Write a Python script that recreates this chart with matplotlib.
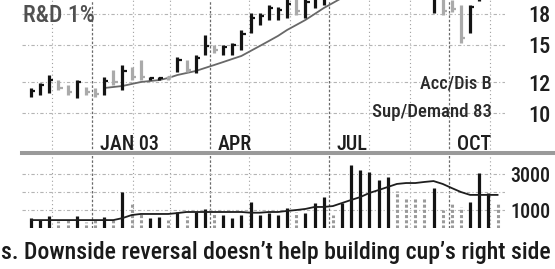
import os
import matplotlib
matplotlib.use("Agg")
import matplotlib.pyplot as plt
import matplotlib.dates as mdates
from matplotlib import font_manager
from matplotlib.font_manager import FontProperties
from matplotlib.lines import Line2D
from matplotlib.ticker import NullLocator
from matplotlib.transforms import blended_transform_factory
import numpy as np
import pandas as pd

# weekly bars, week ending fridays
weeks = pd.date_range("2002-11-15", periods=52, freq="W-FRI")

high = [11.60, 11.95, 12.53, 12.16, 11.81, 12.16, 11.67, 11.60, 12.38, 12.91,
        13.29, 13.14, 13.69, 12.38, 12.38, 12.45, 13.94, 13.69, 14.11, 15.89,
        14.97, 14.97, 15.15, 16.37, 18.10, 18.10, 18.98, 18.75, 19.70, 20.00,
        20.20, 20.50, 21.00, 21.50, 22.00, 23.00, 23.80, 24.50, 25.00, 25.60,
        25.40, 24.60, 23.80, 22.80, 21.60, 21.40, 19.60, 18.98, 18.98, 21.50,
        21.80, 21.60]
low = [11.00, 11.13, 11.26, 11.46, 11.13, 10.93, 11.13, 11.00, 11.13, 11.81,
       11.46, 12.16, 12.16, 12.16, 12.16, 12.20, 12.75, 12.75, 12.68, 14.11,
       14.28, 14.11, 14.11, 14.54, 16.08, 16.86, 17.37, 17.37, 17.58, 17.89,
       17.58, 18.65, 18.98, 19.70, 20.20, 21.00, 22.00, 22.80, 23.20, 23.80,
       23.40, 22.60, 21.80, 20.60, 18.10, 17.89, 18.20, 15.15, 16.08, 19.40,
       19.90, 19.70]
close = [11.40, 11.80, 12.20, 11.60, 11.30, 12.00, 11.30, 11.20, 12.10, 12.00,
         12.80, 12.40, 12.40, 12.30, 12.30, 12.35, 13.70, 12.90, 13.90, 14.90,
         14.50, 14.80, 14.95, 16.00, 17.60, 17.80, 18.60, 18.40, 19.10, 18.30,
         19.30, 20.00, 20.50, 20.80, 21.60, 22.70, 23.40, 24.00, 24.60, 25.20,
         23.80, 23.00, 22.20, 21.00, 21.20, 18.30, 18.50, 15.60, 18.75, 21.00,
         21.40, 20.00]
up_week = [1, 1, 1, 0, 0, 1, 0, 0, 1, 0,
           1, 0, 0, 1, 1, 0, 1, 0, 1, 1,
           0, 1, 1, 1, 1, 1, 1, 1, 1, 0,
           1, 1, 1, 0, 1, 1, 1, 1, 1, 1,
           0, 0, 0, 0, 1, 0, 0, 0, 1, 1,
           1, 0]
price_ma = [np.nan] * 8 + [
    11.60, 11.67, 11.74, 11.88, 12.02, 12.09, 12.16, 12.31, 12.53, 12.68,
    12.83, 13.06, 13.29, 13.53, 13.78, 14.03, 14.45, 14.88, 15.33, 15.80,
    16.37, 16.86, 17.37, 17.99, 18.64, 19.21, 19.80, 20.40, 21.00, 21.60,
    22.10, 22.50, 22.80, 23.00, 23.10, 23.10, 23.00, 22.80, 22.50, 22.10,
    21.80, 21.60, 21.50, 21.40]

volume = [550, 450, 650, 400, 450, 650, 350, 450, 600, 450,
          2000, 1450, 800, 550, 600, 450, 900, 650, 900, 1050,
          850, 700, 550, 700, 1450, 720, 830, 720, 1110, 890,
          830, 1390, 1720, 720, 1390, 3500, 3220, 3110, 2660, 2830,
          2050, 1750, 1750, 1750, 2220, 1000, 1390, 1150, 1450, 3060,
          1950, 1390]
volume_ma = [440, 440, 440, 440, 440, 440, 440, 440, 440, 440,
             550, 720, 780, 780, 780, 780, 830, 890, 890, 890,
             890, 890, 890, 890, 850, 850, 890, 890, 950, 1000,
             1060, 1170, 1170, 1220, 1390, 1560, 1720, 1950, 2110, 2280,
             2450, 2500, 2500, 2560, 2610, 2450, 2220, 2000, 1840, 1840,
             1840, 1840]

price_ticks = [10, 12, 15, 18]
vol_ticks = [1000, 3000]
vol_grid = [1000, 2000, 3000]
quarter_labels = {"2003-01-01": "JAN 03", "2003-04-01": "APR",
                  "2003-07-01": "JUL", "2003-10-01": "OCT"}
caption = "s. Downside reversal doesn\u2019t help building cup\u2019s right side"


# look for the narrowest sans installed (the print uses a condensed face)
def narrow_font():
    files = [f.fname for f in font_manager.fontManager.ttflist]
    prefs = ["liberationsansnarrow-bold", "liberationsansnarrow-regular",
             "robotocondensed-medium", "robotocondensed-regular",
             "notosans-condensedmedium", "notosans-condensed.",
             "opensans-condensed", "dejavusanscondensed.ttf",
             "dejavusanscondensed-bold"]
    for p in prefs:
        for f in files:
            if p in os.path.basename(f).lower().replace(" ", ""):
                return f
    return None


fpath = narrow_font()


def fprop(size):
    if fpath:
        return FontProperties(fname=fpath, size=size)
    return FontProperties(family="DejaVu Sans", stretch="condensed", size=size)


W, H = 555, 269
fig = plt.figure(figsize=(W / 100, H / 100), dpi=100)
fig.patch.set_facecolor("white")


def px_box(x0, y0, x1, y1):
    return [x0 / W, 1 - y1 / H, (x1 - x0) / W, (y1 - y0) / H]


ax = fig.add_axes(px_box(22, 0, 505, 153))
axv = fig.add_axes(px_box(22, 153, 505, 228))

xd = mdates.date2num(weeks)
xlim = (xd[0] - 6.9, xd[0] + 362.7)
black, grey = "#141414", "#aaaaaa"
cols = [black if u else grey for u in up_week]

months = pd.date_range("2002-12-01", "2003-11-01", freq="MS")
for a in (ax, axv):
    a.set_xlim(xlim)
    for s in a.spines.values():
        s.set_visible(False)
    for m in months:
        if m.month in (1, 4, 7, 10):
            a.axvline(mdates.date2num(m), color="#6a6a6a", lw=0.9,
                      ls=(0, (2, 1.5)), zorder=0)
        else:
            a.axvline(mdates.date2num(m), color="#a0a0a0", lw=0.8,
                      ls=(0, (1, 2.5)), zorder=0)

# price panel
ax.set_yscale("log")
ax.set_ylim(7.89, 19.55)
for p in price_ticks:
    ax.axhline(p, color="#b4b4b4", lw=0.8, ls=(0, (3, 2, 1, 2)), zorder=0)
ax.vlines(xd, low, high, colors=cols, lw=2.3, zorder=3)
ax.hlines(close, xd, xd + 3.2, colors=cols, lw=1.6, zorder=3)
ax.plot(xd, price_ma, color="#686868", lw=1.3, zorder=2)
ax.yaxis.tick_right()
ax.set_yticks(price_ticks)
ax.set_yticklabels([str(p) for p in price_ticks])
ax.yaxis.set_minor_locator(NullLocator())
ax.tick_params(axis="y", length=0, pad=16.5, labelcolor="#1e1e1e")
ax.tick_params(axis="x", bottom=False, labelbottom=False)
for lab in ax.get_yticklabels():
    lab.set_fontproperties(fprop(16))

trans = blended_transform_factory(ax.transData, ax.transAxes)
for d, lab in quarter_labels.items():
    ax.text(mdates.date2num(pd.Timestamp(d)) + 6, 0.058, lab, transform=trans,
            ha="left", va="center", fontproperties=fprop(14.5), color="#1e1e1e")

# volume panel
axv.set_ylim(0, 4170)
for v in vol_grid:
    axv.axhline(v, color="#b4b4b4", lw=0.8, ls=(0, (3, 2, 1, 2)), zorder=0)
vol = np.array(volume)
upm = np.array(up_week) == 1
axv.vlines(xd[upm], 0, vol[upm], colors=black, lw=2.3, zorder=3)
axv.vlines(xd[~upm], 0, vol[~upm], colors="#9a9a9a", lw=2.2,
           linestyles=(0, (1, 0.7)), zorder=3)
axv.plot(xd, volume_ma, color="#1e1e1e", lw=1.3, zorder=4)
axv.yaxis.tick_right()
axv.set_yticks(vol_ticks)
axv.set_yticklabels([str(v) for v in vol_ticks])
axv.tick_params(axis="y", length=0, pad=3.6, labelcolor="#1e1e1e")
axv.tick_params(axis="x", bottom=False, labelbottom=False)
for lab in axv.get_yticklabels():
    lab.set_fontproperties(fprop(14.5))

fig.add_artist(Line2D([22 / W, 1], [1 - 153 / H] * 2, color="#9a9a9a", lw=2.9))

# texts, widths fitted to the reference afterwards
t_rd = fig.text(23 / W, 1 - 15 / H, "R&D 1%", ha="left", va="center",
                fontproperties=fprop(17), color="#505050")
t_acc = fig.text(492 / W, 1 - 83 / H, "Acc/Dis B", ha="right", va="center",
                 fontproperties=fprop(15), color="#2a2a2a")
t_sup = fig.text(492 / W, 1 - 112 / H, "Sup/Demand 83", ha="right", va="center",
                 fontproperties=fprop(15), color="#2a2a2a")
t_cap = fig.text(1 / W, 1 - 252 / H, caption, ha="left", va="center",
                 fontproperties=fprop(18), color="#1a1a1a")

fig.canvas.draw()
r = fig.canvas.get_renderer()
for t, target in ((t_rd, 72), (t_acc, 72), (t_sup, 120), (t_cap, 552)):
    w = t.get_window_extent(r).width
    t.set_fontsize(t.get_fontsize() * target / w)

fig.savefig("out.png", dpi=100, facecolor="white")
